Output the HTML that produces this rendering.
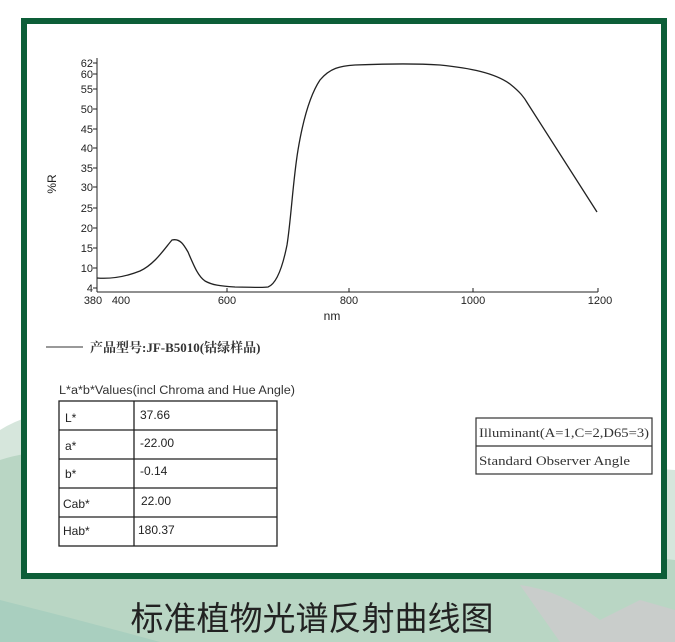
<!DOCTYPE html>
<html><head><meta charset="utf-8"><style>
body{margin:0;width:675px;height:642px;overflow:hidden;background:#fff;font-family:"Liberation Sans",sans-serif;}
svg{display:block}
</style></head><body>
<svg width="675" height="642" viewBox="0 0 675 642" xmlns="http://www.w3.org/2000/svg">
<rect width="675" height="642" fill="#fff"/>
<!-- background hills -->
<path d="M0 430 Q40 405 90 415 L200 440 L675 470 L675 642 L0 642 Z" fill="#d6e6dc"/>
<path d="M0 460 Q60 440 140 470 L300 520 L675 560 L675 642 L0 642 Z" fill="#b9d6c4"/>
<path d="M520 585 Q560 590 600 620 L640 600 L675 610 L675 642 L560 642 Z" fill="#c9cdcb"/>
<path d="M0 600 Q80 620 160 642 L0 642 Z" fill="#a9cfbf"/>
<!-- frame -->
<rect x="24" y="21" width="640" height="555" fill="#fff" stroke="#0d5e38" stroke-width="6"/>
<!-- axes -->
<g stroke="#222" stroke-width="1" fill="none">
<line x1="97" y1="58" x2="97" y2="292"/>
<line x1="97" y1="292" x2="598" y2="292"/>
<line x1="93" y1="63" x2="97" y2="63"/><line x1="93" y1="74" x2="97" y2="74"/><line x1="93" y1="89" x2="97" y2="89"/>
<line x1="93" y1="109" x2="97" y2="109"/><line x1="93" y1="129" x2="97" y2="129"/><line x1="93" y1="148" x2="97" y2="148"/>
<line x1="93" y1="168" x2="97" y2="168"/><line x1="93" y1="187" x2="97" y2="187"/><line x1="93" y1="208" x2="97" y2="208"/>
<line x1="93" y1="228" x2="97" y2="228"/><line x1="93" y1="248" x2="97" y2="248"/><line x1="93" y1="268" x2="97" y2="268"/>
<line x1="93" y1="288" x2="97" y2="288"/>
<line x1="227" y1="288" x2="227" y2="292"/><line x1="349" y1="288" x2="349" y2="292"/><line x1="473" y1="288" x2="473" y2="292"/><line x1="598" y1="288" x2="598" y2="292"/>
</g>
<g font-size="11" fill="#222" text-anchor="end">
<text x="93" y="67">62</text><text x="93" y="78">60</text><text x="93" y="93">55</text><text x="93" y="113">50</text>
<text x="93" y="133">45</text><text x="93" y="152">40</text><text x="93" y="172">35</text><text x="93" y="191">30</text>
<text x="93" y="212">25</text><text x="93" y="232">20</text><text x="93" y="252">15</text><text x="93" y="272">10</text>
<text x="93" y="292">4</text>
</g>
<g font-size="11" fill="#222" text-anchor="middle">
<text x="93" y="304">380</text><text x="121" y="304">400</text><text x="227" y="304">600</text>
<text x="349" y="304">800</text><text x="473" y="304">1000</text><text x="600" y="304">1200</text>
<text x="332" y="320" font-size="12">nm</text>
</g>
<text x="56" y="184" font-size="12" fill="#222" text-anchor="middle" transform="rotate(-90 56 184)">%R</text>
<path d="M97 278 C110 279 125 277 140 271 C155 264 165 248 172 240 C180 238 184 245 188 252 C194 266 198 276 205 281 C212 285 220 286 235 287 C250 287 262 288 268 287 C276 284 282 270 287 245 C291 220 293 180 298 150 C303 120 310 95 320 80 C330 68 340 66 355 65 C380 64 410 63 440 65 C470 68 495 73 510 84 C520 92 524 97 528 104 L597 212" fill="none" stroke="#222" stroke-width="1.3"/>
<!-- legend -->
<line x1="46" y1="347" x2="83" y2="347" stroke="#333" stroke-width="1"/>
<text x="90" y="352" font-family="'Liberation Serif','Noto Serif CJK SC',serif" font-weight="bold" font-size="13" fill="#333">产品型号:JF-B5010(钴绿样品)</text>
<!-- lab table -->
<text x="59" y="394" font-size="11.5" fill="#333" textLength="236" lengthAdjust="spacingAndGlyphs">L*a*b*Values(incl Chroma and Hue Angle)</text>
<g stroke="#222" stroke-width="1.3" fill="none">
<rect x="59" y="401" width="218" height="145"/>
<line x1="134" y1="401" x2="134" y2="546"/>
<line x1="59" y1="430" x2="277" y2="430"/><line x1="59" y1="459" x2="277" y2="459"/>
<line x1="59" y1="488" x2="277" y2="488"/><line x1="59" y1="517" x2="277" y2="517"/>
</g>
<g font-size="12" fill="#222">
<text x="65" y="422">L*</text><text x="65" y="450">a*</text><text x="65" y="478">b*</text><text x="63" y="508">Cab*</text><text x="63" y="535">Hab*</text>
<text x="140" y="419">37.66</text><text x="140" y="447">-22.00</text><text x="140" y="475">-0.14</text><text x="141" y="505">22.00</text><text x="138" y="534">180.37</text>
</g>
<!-- right box -->
<g stroke="#333" stroke-width="1.2" fill="none">
<rect x="476" y="418" width="176" height="56"/><line x1="476" y1="446" x2="652" y2="446"/>
</g>
<g font-family="'Liberation Serif',serif" font-size="13" fill="#333">
<text x="479" y="437" textLength="170" lengthAdjust="spacingAndGlyphs">Illuminant(A=1,C=2,D65=3)</text>
<text x="479" y="465" textLength="151" lengthAdjust="spacingAndGlyphs">Standard Observer Angle</text>
</g>
<text x="312" y="630" text-anchor="middle" font-family="'Noto Sans CJK SC',sans-serif" font-size="33" fill="#222">标准植物光谱反射曲线图</text>
</svg>
</body></html>
